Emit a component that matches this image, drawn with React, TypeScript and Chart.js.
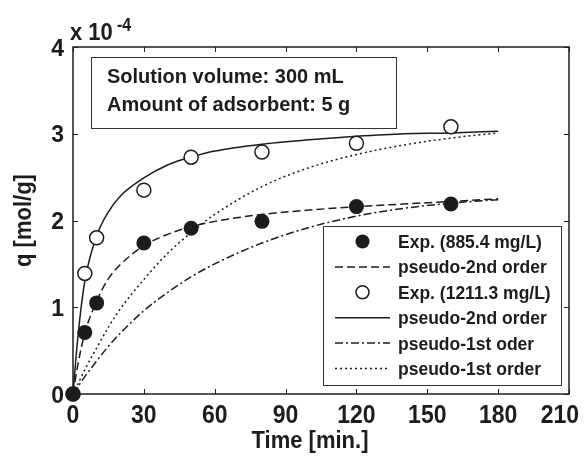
import React, { useEffect, useRef } from "react";
import { Chart, registerables } from "chart.js";

Chart.register(...registerables);

// Experimental sampling times [min] and measured uptake q [x 10^-4 mol/g]
const tExp = [0, 5, 10, 30, 50, 80, 120, 160];
const q885 = [0, 0.71, 1.05, 1.74, 1.91, 1.99, 2.16, 2.19];
const q1211 = [0, 1.39, 1.8, 2.35, 2.73, 2.79, 2.89, 3.08];

// Kinetic model curves [x 10^-4 mol/g]
const tModel = [0, 2, 5, 10, 15, 20, 30, 40, 50, 60, 80, 100, 120, 140, 160, 180];
const pso885 = [0, 0.33, 0.7, 1.07, 1.33, 1.49, 1.71, 1.84, 1.93, 1.99, 2.07, 2.12, 2.16, 2.19, 2.22, 2.25];
const pso1211 = [0, 0.64, 1.3, 1.82, 2.1, 2.28, 2.49, 2.64, 2.73, 2.8, 2.88, 2.93, 2.97, 3.0, 3.01, 3.03];
const pfo885 = [0, 0.08, 0.2, 0.38, 0.55, 0.7, 0.96, 1.17, 1.35, 1.5, 1.74, 1.92, 2.05, 2.14, 2.2, 2.24];
const pfo1211 = [0, 0.11, 0.28, 0.53, 0.77, 0.98, 1.32, 1.62, 1.86, 2.07, 2.39, 2.61, 2.76, 2.87, 2.95, 3.01];

const xTicks = [0, 30, 60, 90, 120, 150, 180, 210];
const yTicks = [0, 1, 2, 3, 4];

const infoLines = ["Solution volume: 300 mL", "Amount of adsorbent: 5 g"];
const legendLabels = [
  "Exp. (885.4 mg/L)",
  "pseudo-2nd order",
  "Exp. (1211.3 mg/L)",
  "pseudo-2nd order",
  "pseudo-1st oder",
  "pseudo-1st order",
];

const INK = "#1c1c1c";
const FONT = '"Liberation Sans", Arial, Helvetica, sans-serif';

const pts = (xs: number[], ys: number[]) => xs.map((x, i) => ({ x, y: ys[i] }));

function stretchedText(
  ctx: CanvasRenderingContext2D,
  text: string,
  x: number,
  y: number,
  size: number,
  align: CanvasTextAlign = "left",
  sy = 1
) {
  ctx.save();
  ctx.font = `bold ${size}px ${FONT}`;
  ctx.fillStyle = INK;
  ctx.textAlign = align;
  ctx.textBaseline = "alphabetic";
  ctx.translate(x, y);
  ctx.scale(1, sy);
  ctx.fillText(text, 0, 0);
  ctx.restore();
}

const framePlugin = {
  id: "frameAndTicks",
  beforeDatasetsDraw(chart: any) {
    const { ctx, chartArea: a, scales } = chart;
    const xs = scales.x;
    const ys = scales.y;
    ctx.save();
    ctx.strokeStyle = INK;
    ctx.lineWidth = 1.5;
    ctx.strokeRect(a.left, a.top, a.right - a.left, a.bottom - a.top);
    ctx.lineWidth = 1;
    const len = 5;
    ctx.beginPath();
    xTicks.forEach((v) => {
      const px = Math.round(xs.getPixelForValue(v)) + 0.5;
      ctx.moveTo(px, a.bottom);
      ctx.lineTo(px, a.bottom - len);
      ctx.moveTo(px, a.top);
      ctx.lineTo(px, a.top + len);
    });
    yTicks.forEach((v) => {
      const py = Math.round(ys.getPixelForValue(v)) + 0.5;
      ctx.moveTo(a.left, py);
      ctx.lineTo(a.left + len, py);
      ctx.moveTo(a.right, py);
      ctx.lineTo(a.right - len, py);
    });
    ctx.stroke();
    ctx.restore();
  },
  afterDraw(chart: any) {
    const { ctx, chartArea: a, scales, width } = chart;
    const xs = scales.x;
    const ys = scales.y;

    // tick labels (kept inside the canvas at the right edge)
    ctx.save();
    ctx.font = `bold 23px ${FONT}`;
    xTicks.forEach((v) => {
      const half = ctx.measureText(String(v)).width / 2;
      const cx = Math.min(xs.getPixelForValue(v), width - 9 - half);
      stretchedText(ctx, String(v), cx, a.bottom + 29, 23, "center", 1.1);
    });
    ctx.restore();
    yTicks.forEach((v) => stretchedText(ctx, String(v), a.left - 9, ys.getPixelForValue(v) + 8.5, 23, "right", 1.05));

    // exponent label
    stretchedText(ctx, "x 10", 70, 40, 22, "left", 1.05);
    stretchedText(ctx, "-4", 117, 31, 16, "left", 1.1);

    // axis titles
    stretchedText(ctx, "Time [min.]", 310, 448, 22, "center", 1.12);
    ctx.save();
    ctx.translate(31, (a.top + a.bottom) / 2);
    ctx.rotate(-Math.PI / 2);
    stretchedText(ctx, "q [mol/g]", 0, 0, 22, "center", 1.12);
    ctx.restore();

    // info box
    ctx.save();
    ctx.fillStyle = "#fff";
    ctx.strokeStyle = "#333";
    ctx.lineWidth = 1;
    ctx.fillRect(91, 57, 305, 71);
    ctx.strokeRect(91.5, 57.5, 305, 71);
    ctx.restore();
    infoLines.forEach((t, i) => stretchedText(ctx, t, 107, 83 + i * 28, 20, "left", 1.04));

    // legend box
    const lx = 323;
    const ly = 226;
    ctx.save();
    ctx.fillStyle = "#fff";
    ctx.strokeStyle = "#333";
    ctx.lineWidth = 1;
    ctx.fillRect(lx, ly, 238, 159);
    ctx.strokeRect(lx + 0.5, ly + 0.5, 238, 159);
    ctx.restore();

    const dashes: (number[] | null)[] = [null, [8, 4], null, [], [8, 3, 2, 3], [2, 3]];
    legendLabels.forEach((label, i) => {
      const cy = 241.5 + i * 25.4;
      ctx.save();
      ctx.strokeStyle = INK;
      ctx.fillStyle = INK;
      if (i === 0) {
        ctx.beginPath();
        ctx.arc(362.5, cy, 7, 0, Math.PI * 2);
        ctx.fill();
      } else if (i === 2) {
        ctx.lineWidth = 1.5;
        ctx.fillStyle = "#fff";
        ctx.beginPath();
        ctx.arc(362.5, cy, 6.5, 0, Math.PI * 2);
        ctx.fill();
        ctx.stroke();
      } else {
        ctx.lineWidth = 1.5;
        ctx.setLineDash(dashes[i] as number[]);
        ctx.beginPath();
        ctx.moveTo(335, cy);
        ctx.lineTo(390, cy);
        ctx.stroke();
      }
      ctx.restore();
      stretchedText(ctx, label, 398, cy + 6.5, 17.5, "left", 1.05);
    });
  },
};

export default function App() {
  const ref = useRef<HTMLCanvasElement | null>(null);

  useEffect(() => {
    if (!ref.current) return;
    const curve = (ys: number[], dash: number[]) => ({
      data: pts(tModel, ys),
      showLine: true,
      borderColor: INK,
      borderWidth: 1.5,
      borderDash: dash,
      pointRadius: 0,
      cubicInterpolationMode: "monotone" as const,
      fill: false,
      clip: false as any,
    });
    const chart = new Chart(ref.current, {
      type: "scatter",
      data: {
        datasets: [
          {
            data: pts(tExp, q885),
            pointRadius: 7.5,
            pointBackgroundColor: INK,
            pointBorderColor: INK,
            pointBorderWidth: 0,
            showLine: false,
            clip: false as any,
          },
          {
            data: pts(tExp, q1211),
            pointRadius: 7,
            pointBackgroundColor: "#fff",
            pointBorderColor: INK,
            pointBorderWidth: 1.5,
            showLine: false,
            clip: false as any,
          },
          curve(pso885, [8, 4]),
          curve(pso1211, []),
          curve(pfo885, [8, 3, 2, 3]),
          curve(pfo1211, [2, 3]),
        ],
      },
      options: {
        responsive: false,
        animation: false,
        events: [],
        layout: { padding: { left: 73, top: 47, right: 19, bottom: 63 } },
        plugins: { legend: { display: false }, tooltip: { enabled: false } },
        scales: {
          x: { type: "linear", min: 0, max: 210, display: false },
          y: { type: "linear", min: 0, max: 4, display: false },
        },
      },
      plugins: [framePlugin],
    });
    return () => chart.destroy();
  }, []);

  return (
    <div style={{ position: "fixed", left: 0, top: 0, width: 588, height: 457, background: "#fff" }}>
      <canvas ref={ref} width={588} height={457} />
    </div>
  );
}
